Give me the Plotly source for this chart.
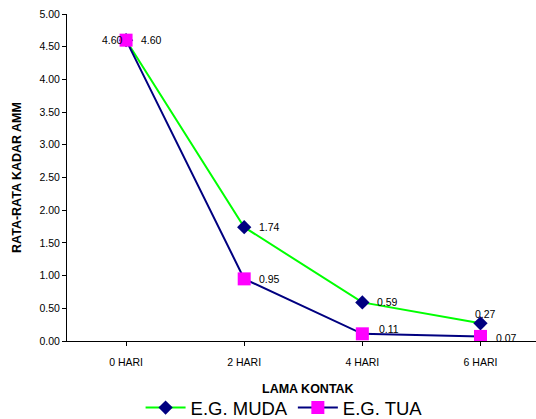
import plotly.graph_objects as go

categories = ["0 HARI", "2 HARI", "4 HARI", "6 HARI"]
muda = [4.60, 1.74, 0.59, 0.27]
tua = [4.60, 0.95, 0.11, 0.07]
# label offsets (px) relative to each point: (xshift, yshift, xanchor)
muda_lbl = [(13, 0, "left"), (13, 0, "left"), (13, 0, "left"), (-7, 9, "left")]
tua_lbl = [(-1, 0, "right"), (13, 0, "left"), (15, 5, "left"), (14, -2, "left")]

FONT = "Liberation Sans, Arial, sans-serif"
xs = list(range(len(categories)))

fig = go.Figure()
fig.add_trace(go.Scatter(
    x=xs, y=muda, name="E.G. MUDA", mode="lines+markers",
    line=dict(color="#00FF00", width=2),
    marker=dict(symbol="diamond", size=11, color="#000080"),
))
fig.add_trace(go.Scatter(
    x=xs, y=tua, name="E.G. TUA", mode="lines+markers",
    line=dict(color="#000080", width=2),
    marker=dict(symbol="square", size=13, color="#FF00FF"),
))

for series, offs in ((muda, muda_lbl), (tua, tua_lbl)):
    for xi, v, (dx, dy, anc) in zip(xs, series, offs):
        fig.add_annotation(x=xi, y=v, text=f"{v:.2f}", showarrow=False,
                           xanchor=anc, yanchor="middle", xshift=dx, yshift=dy,
                           font=dict(size=10.5, color="#000000", family=FONT))

# x-axis title as annotation for exact placement
fig.add_annotation(xref="paper", yref="paper", x=0.513, y=-0.147,
                   text="<b>LAMA KONTAK</b>", showarrow=False,
                   xanchor="center", yanchor="middle",
                   font=dict(size=12.5, color="#000000", family=FONT))

fig.update_layout(
    width=536, height=419,
    margin=dict(l=67, r=0, t=14, b=78, autoexpand=False),
    paper_bgcolor="white", plot_bgcolor="white",
    font=dict(family=FONT, color="#000000"),
    showlegend=True,
    legend=dict(orientation="h", xref="container", yref="container",
                x=0.53, y=11 / 419, xanchor="center", yanchor="middle",
                font=dict(size=18.5, family=FONT), itemwidth=40,
                tracegroupgap=0),
)
fig.update_xaxes(
    tickmode="array", tickvals=xs, ticktext=categories,
    range=[-0.5, 3.47], showgrid=False, zeroline=False,
    showline=True, linecolor="#000000", linewidth=1,
    ticks="outside", tickson="boundaries", ticklen=4, tickcolor="#000000",
    tickfont=dict(size=10.5), automargin=False, ticklabelstandoff=7,
)
fig.update_yaxes(
    range=[0, 5], tickvals=[0, 0.5, 1, 1.5, 2, 2.5, 3, 3.5, 4, 4.5, 5],
    tickformat=".2f", showgrid=False, zeroline=False,
    showline=True, linecolor="#000000", linewidth=1,
    ticks="outside", ticklen=4, tickcolor="#000000",
    tickfont=dict(size=10.5), automargin=False,
    title=dict(text="<b>RATA-RATA KADAR AMM</b>", font=dict(size=12.5), standoff=15),
)

fig.write_html("out.html")
